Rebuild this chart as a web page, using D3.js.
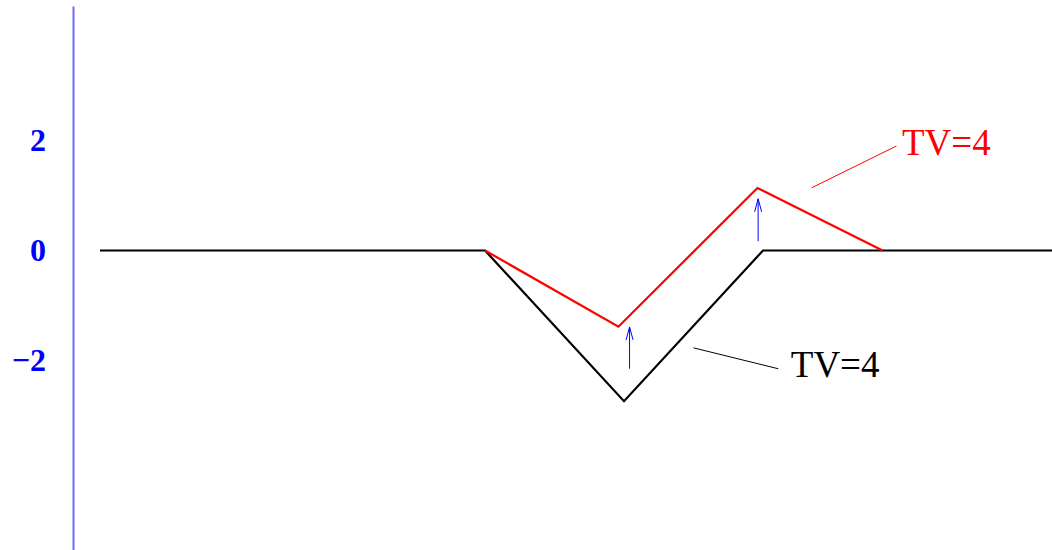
<!DOCTYPE html>
<html>
<head>
<meta charset="utf-8">
<script src="https://cdn.jsdelivr.net/npm/d3@7"></script>
<style>
  body { margin: 0; background: #fff; }
  svg { display: block; }
</style>
</head>
<body>
<div id="chart"></div>
<script>
// black path (original) and red path (after shift)
const blackX = [-2.77, 0, 1.0, 2.0, 4.08]
const blackY = [0, 0, -2.74, 0, 0]
const redX = [0, 0.96, 1.96, 2.86]
const redY = [0, -1.385, 1.136, 0]

// blue arrows: x, from y, to y
const arrowX = [1.04, 1.965]
const arrowFrom = [-2.15, 0.17]
const arrowTo = [-1.39, 0.94]

const yTicks = [-2, 0, 2]
const yTickLabels = ['\u22122', '0', '2']

// annotations: text, label anchor, leader start/end (data coords)
const labels = ['TV=4', 'TV=4']
const labelColors = ['red', 'black']
const labelX = [3.0, 2.2]
const labelY = [1.73, -2.3]
const leaderX1 = [2.35, 1.5]
const leaderY1 = [1.14, -1.77]
const leaderX2 = [2.96, 2.11]
const leaderY2 = [1.90, -2.15]

const W = 1052, H = 550

const x = d3.scaleLinear().domain([0, 1]).range([485, 624])
const y = d3.scaleLinear().domain([-5.445, 4.445]).range([550, 6])

const svg = d3.select('#chart').append('svg')
  .attr('width', W).attr('height', H)

// y axis
const gY = svg.append('g').attr('transform', 'translate(73,0)')
  .call(d3.axisLeft(y).tickValues(yTicks).tickSize(0).tickSizeOuter(0).tickPadding(27)
    .tickFormat((d, i) => yTickLabels[i]))
gY.select('.domain').attr('stroke', '#6a6aff').attr('stroke-width', 2)
gY.selectAll('text')
  .attr('fill', 'blue')
  .style('font-family', '"Liberation Serif", "DejaVu Serif", serif')
  .style('font-size', '32px')
  .style('font-weight', 'bold')

const line = d3.line().x(d => x(d[0])).y(d => y(d[1]))

svg.append('path')
  .datum(blackX.map((v, i) => [v, blackY[i]]))
  .attr('d', line)
  .attr('fill', 'none').attr('stroke', 'black').attr('stroke-width', 2.2)

svg.append('path')
  .datum(redX.map((v, i) => [v, redY[i]]))
  .attr('d', line)
  .attr('fill', 'none').attr('stroke', 'red').attr('stroke-width', 2.2)

// arrows
arrowX.forEach((ax, i) => {
  const px = x(ax), y0 = y(arrowFrom[i]), y1 = y(arrowTo[i])
  svg.append('path')
    .attr('d', `M${px},${y0}L${px},${y1}M${px - 3.5},${y1 + 13}L${px},${y1}L${px + 3.5},${y1 + 13}`)
    .attr('fill', 'none').attr('stroke', 'blue').attr('stroke-width', 1)
})

// labels and leaders
labels.forEach((t, i) => {
  svg.append('line')
    .attr('x1', x(leaderX1[i])).attr('y1', y(leaderY1[i]))
    .attr('x2', x(leaderX2[i])).attr('y2', y(leaderY2[i]))
    .attr('stroke', labelColors[i]).attr('stroke-width', 1)
  svg.append('text')
    .attr('x', x(labelX[i])).attr('y', y(labelY[i]))
    .attr('fill', labelColors[i])
    .style('font-family', '"Liberation Serif", "DejaVu Serif", serif')
    .style('font-size', '37px')
    .text(t)
})
</script>
</body>
</html>
